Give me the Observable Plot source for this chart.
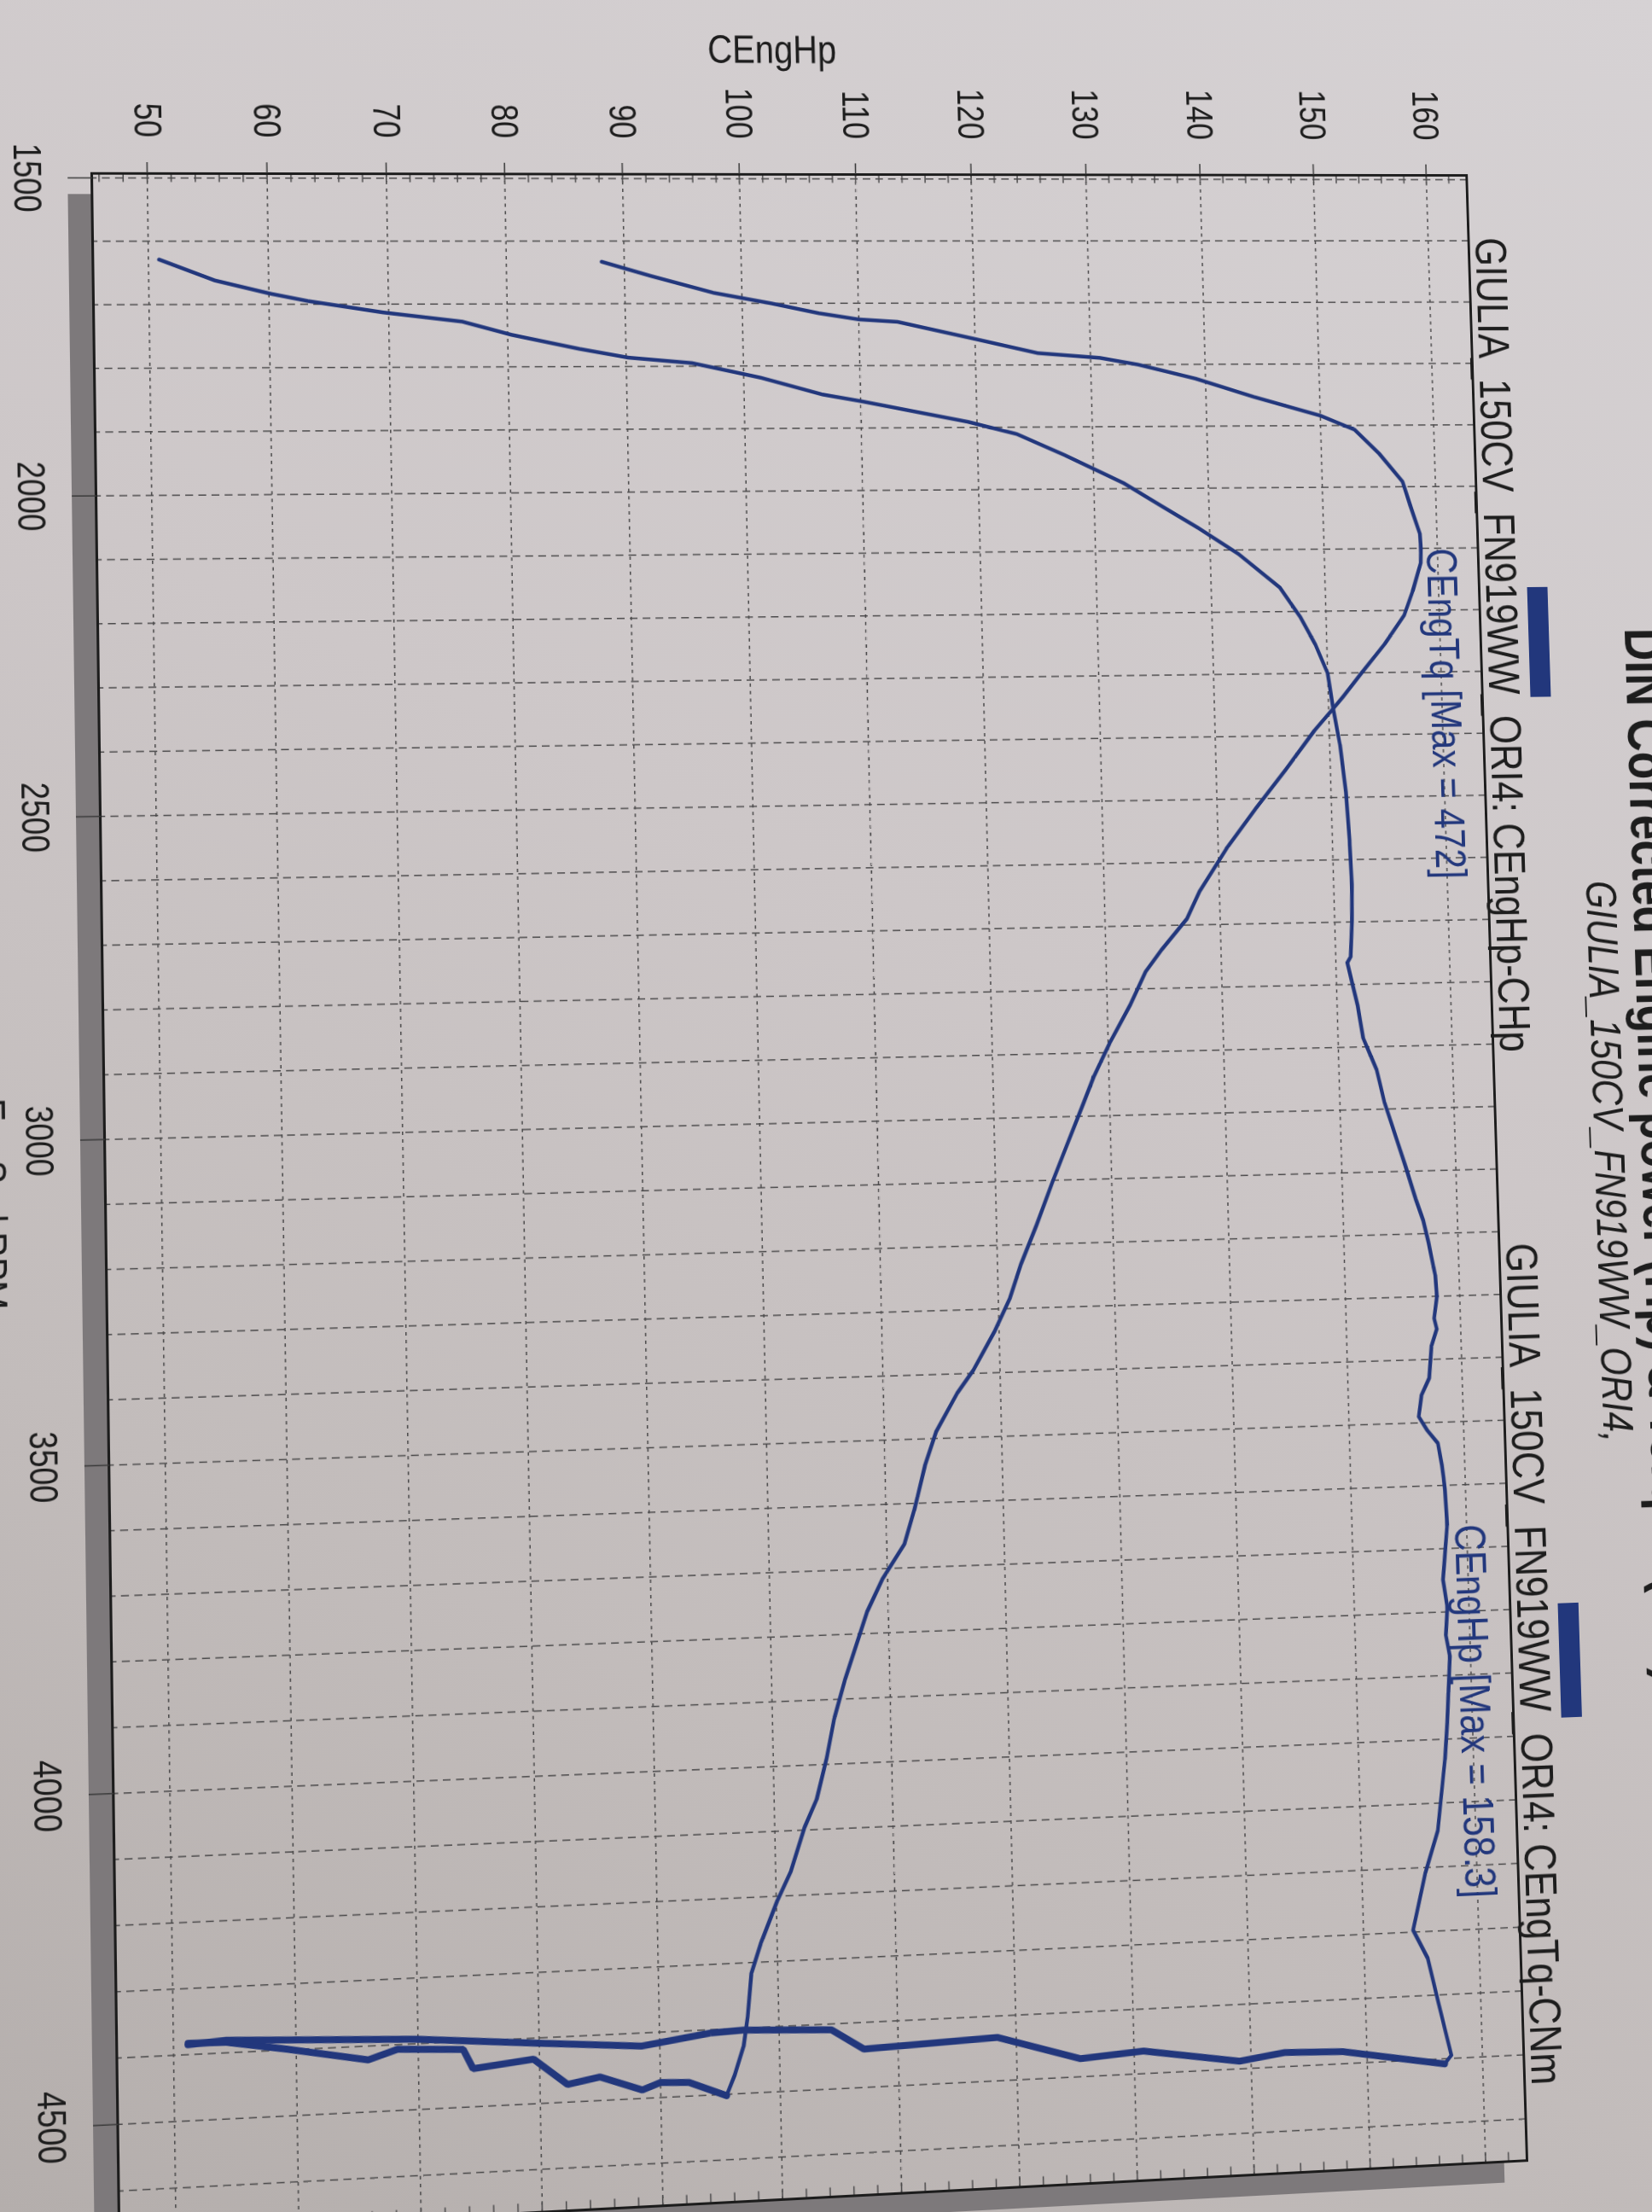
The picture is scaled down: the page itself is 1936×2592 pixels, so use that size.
<!DOCTYPE html>
<html>
<head>
<meta charset="utf-8">
<script src="https://cdn.jsdelivr.net/npm/d3@7"></script>
<script src="https://cdn.jsdelivr.net/npm/@observablehq/plot@0.6"></script>
<style>
  html, body { margin: 0; padding: 0; width: 1936px; height: 2592px; overflow: hidden; }
  body { position: relative; background: linear-gradient(205deg, #d6d2d4 0%, #cdc7c8 42%, #c2bcbb 72%, #b4aeac 100%); }
  #sheet { position: absolute; left: 0; top: 0; width: 2650px; height: 2030px; transform-origin: 0 0; }
</style>
</head>
<body>
<div id="sheet"></div>
<script>
// ---------------- data (read from the photographed dyno sheet) ----------------
const titleText = "DIN Corrected Engine power (Hp) & Torque (Nm)";
const subtitleText = "GIULIA_150CV_FN919WW_ORI4,";
const legendPower = "GIULIA_150CV_FN919WW_ORI4: CEngHp-CHp";
const legendTorque = "GIULIA_150CV_FN919WW_ORI4: CEngTq-CNm";
const yLabel = "CEngHp";
const xLabel = "EngSpd RPM";

const rpmTicks = [1500, 2000, 2500, 3000, 3500, 4000, 4500];
const hpTicks = [50, 60, 70, 80, 90, 100, 110, 120, 130, 140, 150, 160];

// power run (rpm, hp)
const powerRpm = [1629,1662,1683,1695,1713,1728,1749,1772,1786,1795,1819,1846,1857,1891,1911,1946,1991,2030,2064,2107,2161,2208,2254,2300,2357,2415,2492,2569,2640,2700,2756,2765,2834,2886,2937,2989,3050,3093,3145,3179,3214,3266,3300,3335,3352,3378,3430,3456,3490,3512,3533,3568,3607,3663,3715,3749,3792,3836,3870,3922,3974,4032,4143,4209,4297,4342,4411,4495,4508];
const powerHp  = [50.9,55.5,60.1,63.3,69.5,76.2,80.3,86.1,90.2,95.6,101.5,106.7,110.0,119.2,123.4,127.6,132.6,136.0,139.0,142.5,146.0,147.7,149.0,150.0,150.4,150.9,151.3,151.5,151.6,151.5,151.3,151.0,151.8,152.2,153.3,153.9,154.9,155.6,156.4,157.0,157.4,157.9,158.0,157.7,157.9,157.4,157.1,156.4,156.1,156.8,157.7,158.0,158.2,158.3,158.0,157.8,158.1,157.9,158.2,158.0,157.8,157.5,156.7,155.5,154.3,155.5,156.3,157.3,156.7];
// power after throttle lift (rpm, hp)
const powerDropRpm = [4481,4478,4488,4465,4472,4433,4441,4409,4403,4405,4420,4408,4393,4384,4381,4385];
const powerDropHp  = [147.9,142.9,139.0,130.8,125.4,118.4,107.1,104.4,97.0,94.3,88.5,79.9,69.8,58.1,54.3,51.2];

// torque run (rpm, Nm)
const torqueRpm = [1633,1656,1683,1700,1716,1726,1730,1758,1781,1789,1800,1823,1853,1884,1907,1946,1992,2030,2077,2100,2123,2169,2208,2254,2300,2338,2357,2392,2454,2515,2577,2646,2690,2739,2773,2825,2886,2937,2981,3041,3102,3171,3231,3283,3335,3395,3430,3490,3542,3611,3663,3715,3766,3870,3931,3990,4053,4096,4162,4206,4272,4316,4383,4428,4471,4502];
const torqueNm  = [204.6,220.5,240.7,259.3,274.8,287.7,300.3,325.7,346.2,366.7,379.2,398.2,417.5,439.6,450.9,458.9,466.5,468.8,471.8,472.0,471.8,468.8,465.7,458.9,450.9,444.5,441.1,434.6,424.7,414.5,404.6,395.1,390.6,381.9,376.5,371.2,364.0,358.7,354.9,349.6,344.3,338.6,333.3,329.5,324.2,317.0,311.6,304.4,300.6,296.8,293.4,286.2,280.9,273.3,269.5,266.9,263.4,259.3,254.7,250.2,244.5,241.4,239.9,238.4,235.4,232.7];
// torque after throttle lift (rpm, Nm)
const torqueDropRpm = [4479,4477,4487,4464,4473,4432,4442,4412,4407,4421,4399,4384,4383];
const torqueDropNm  = [220.9,211.8,206.1,192.8,182.6,172.0,153.0,150.0,129.5,120.3,95.3,76.3,64.6];

// hidden secondary torque axis: these Nm values sit level with these hp values
const tqAxisHp = [50, 160];
const tqAxisNm = [60, 477.5];

// ---------------- chart ----------------
const W = 2650, H = 2030, ML = 200, MR = 62, MT = 280, MB = 125;
const NAVY = "#22377c";
const FONT = "'Liberation Sans', Arial, Helvetica, sans-serif";
const COND = 0.84; // the printout uses a narrow face
const xDomain = [1493, 4665], yDomain = [45.4, 163.6];

const nmToHp = nm => tqAxisHp[0] + (nm - tqAxisNm[0]) * (tqAxisHp[1] - tqAxisHp[0]) / (tqAxisNm[1] - tqAxisNm[0]);

const power = powerRpm.map((r, i) => ({rpm: r, hp: powerHp[i]}));
const powerDrop = [power[power.length - 1], ...powerDropRpm.map((r, i) => ({rpm: r, hp: powerDropHp[i]}))];
const torque = torqueRpm.map((r, i) => ({rpm: r, nm: torqueNm[i]}));
const torqueDrop = [torque[torque.length - 1], ...torqueDropRpm.map((r, i) => ({rpm: r, nm: torqueDropNm[i]}))];

const pMax = power[d3.maxIndex(power, d => d.hp)];
const tMax = torque[d3.maxIndex(torque, d => d.nm)];

const rpmGrid = d3.range(rpmTicks[0], 4661, 100);
const hpMinor = d3.range(46, 164, 2);
const gridColor = "#4b4a4b";

const plot = Plot.plot({
  width: W, height: H,
  marginLeft: ML, marginRight: MR, marginTop: MT, marginBottom: MB,
  style: {background: "transparent", overflow: "visible", fontFamily: FONT, fontSize: "44px", color: "#1d1d1d"},
  x: {domain: xDomain},
  y: {domain: yDomain},
  marks: [
    Plot.ruleX(rpmGrid, {stroke: gridColor, strokeWidth: 1.5, strokeDasharray: "9,6"}),
    Plot.ruleY(hpTicks, {stroke: gridColor, strokeWidth: 1.5, strokeDasharray: "4,5"}),
    Plot.ruleY(hpMinor, {x1: xDomain[0], x2: xDomain[0] + 14, stroke: gridColor, strokeWidth: 1.5}),
    Plot.ruleY(hpMinor, {x1: xDomain[1] - 14, x2: xDomain[1], stroke: gridColor, strokeWidth: 1.5}),
    Plot.frame({stroke: "#1c1c1c", strokeWidth: 3}),
    Plot.axisX(rpmTicks, {anchor: "bottom", tickSize: 28, tickPadding: 29, fontSize: 44, label: null,
      tickFormat: d => String(d), stroke: "#3a3a3a", strokeWidth: 1.5}),
    Plot.axisY(hpTicks, {anchor: "left", tickSize: 13, tickPadding: 30, fontSize: 44, label: null,
      tickFormat: d => String(d), stroke: "#3a3a3a", strokeWidth: 1.5}),
    Plot.line(torque, {x: "rpm", y: d => nmToHp(d.nm), stroke: NAVY, strokeWidth: 4.5, strokeLinejoin: "round"}),
    Plot.line(torqueDrop, {x: "rpm", y: d => nmToHp(d.nm), stroke: NAVY, strokeWidth: 8, strokeLinejoin: "miter"}),
    Plot.line(power, {x: "rpm", y: "hp", stroke: NAVY, strokeWidth: 4.5, strokeLinejoin: "round"}),
    Plot.line(powerDrop, {x: "rpm", y: "hp", stroke: NAVY, strokeWidth: 8, strokeLinejoin: "miter"}),
    Plot.text([tMax], {x: "rpm", y: d => nmToHp(d.nm), text: d => `CEngTq [Max = ${Math.round(d.nm)}]`,
      textAnchor: "start", lineAnchor: "bottom", dy: -7, fontSize: 52, fill: NAVY}),
    Plot.text([pMax], {x: "rpm", y: "hp", text: d => `CEngHp [Max = ${d.hp}]`,
      textAnchor: "start", lineAnchor: "bottom", dy: -9, fontSize: 52, fill: NAVY}),
    Plot.text([yLabel], {frameAnchor: "left", dx: -135, dy: 20, rotate: -90, textAnchor: "middle", lineAnchor: "bottom", fontSize: 48}),
    Plot.text([xLabel], {frameAnchor: "bottom", dx: 12, dy: 110, textAnchor: "middle", lineAnchor: "top", fontSize: 48}),
    Plot.text([legendPower], {frameAnchor: "top-left", dx: 573, dy: -9, textAnchor: "middle", lineAnchor: "bottom", fontSize: 54}),
    Plot.text([legendTorque], {frameAnchor: "top-left", dx: 1800, dy: -9, textAnchor: "middle", lineAnchor: "bottom", fontSize: 54}),
    Plot.text([subtitleText], {frameAnchor: "top", dx: 9, dy: -120, textAnchor: "middle", lineAnchor: "bottom", fontSize: 52, fontStyle: "italic"}),
    Plot.text([titleText], {frameAnchor: "top", dx: 0, dy: -177, textAnchor: "middle", lineAnchor: "bottom", fontSize: 66, fontWeight: "bold"})
  ]
});

const sheet = document.getElementById("sheet");
sheet.append(plot);

// narrow face: condense every text run
plot.querySelectorAll("text").forEach(t => {
  const L = t.getComputedTextLength();
  if (L > 0) {
    t.setAttribute("textLength", (L * COND).toFixed(1));
    t.setAttribute("lengthAdjust", "spacingAndGlyphs");
  }
});

// drop shadow of the printed frame and legend swatches
const svg = d3.select(plot);
const fx0 = ML, fx1 = W - MR, fy0 = MT, fy1 = H - MB;
const sh = svg.insert("g", ":first-child").attr("fill", "#7d797b");
sh.append("rect").attr("x", fx0 + 25).attr("y", fy1 + 1).attr("width", fx1 - fx0).attr("height", 27);
sh.append("rect").attr("x", fx1 + 1).attr("y", fy0 + 28).attr("width", 24).attr("height", fy1 - fy0);
svg.append("rect").attr("x", fx0 + 573 - 67).attr("y", 197).attr("width", 134).attr("height", 25).attr("fill", NAVY);
svg.append("rect").attr("x", fx0 + 1800 - 68).attr("y", 198).attr("width", 136).attr("height", 25).attr("fill", NAVY);

// the sheet is photographed turned a quarter turn clockwise, in slight perspective
function homography(src, dst) {
  const A = [], b = [];
  for (let i = 0; i < 4; i++) {
    const [x, y] = src[i], [X, Y] = dst[i];
    A.push([x, y, 1, 0, 0, 0, -x * X, -y * X]); b.push(X);
    A.push([0, 0, 0, x, y, 1, -x * Y, -y * Y]); b.push(Y);
  }
  const n = 8;
  for (let c = 0; c < n; c++) {
    let p = c;
    for (let r = c + 1; r < n; r++) if (Math.abs(A[r][c]) > Math.abs(A[p][c])) p = r;
    [A[c], A[p]] = [A[p], A[c]]; [b[c], b[p]] = [b[p], b[c]];
    for (let r = 0; r < n; r++) {
      if (r === c) continue;
      const f = A[r][c] / A[c][c];
      for (let k = c; k < n; k++) A[r][k] -= f * A[c][k];
      b[r] -= f * b[c];
    }
  }
  return b.map((v, i) => v / A[i][i]);
}
const xs = plot.scale("x"), ys = plot.scale("y");
const src = [
  [xs.apply(1500), ys.apply(50)], [xs.apply(1500), ys.apply(160)],
  [xs.apply(4500), ys.apply(50)], [xs.apply(4500), ys.apply(160)]
];
const dst = [[173, 208], [1672, 210], [205, 2486], [1738, 2410]];
const [a, bb, c, d, e, f, g, h] = homography(src, dst);
sheet.style.transform = `matrix3d(${a},${d},0,${g},${bb},${e},0,${h},0,0,1,0,${c},${f},0,1)`;
</script>
</body>
</html>
